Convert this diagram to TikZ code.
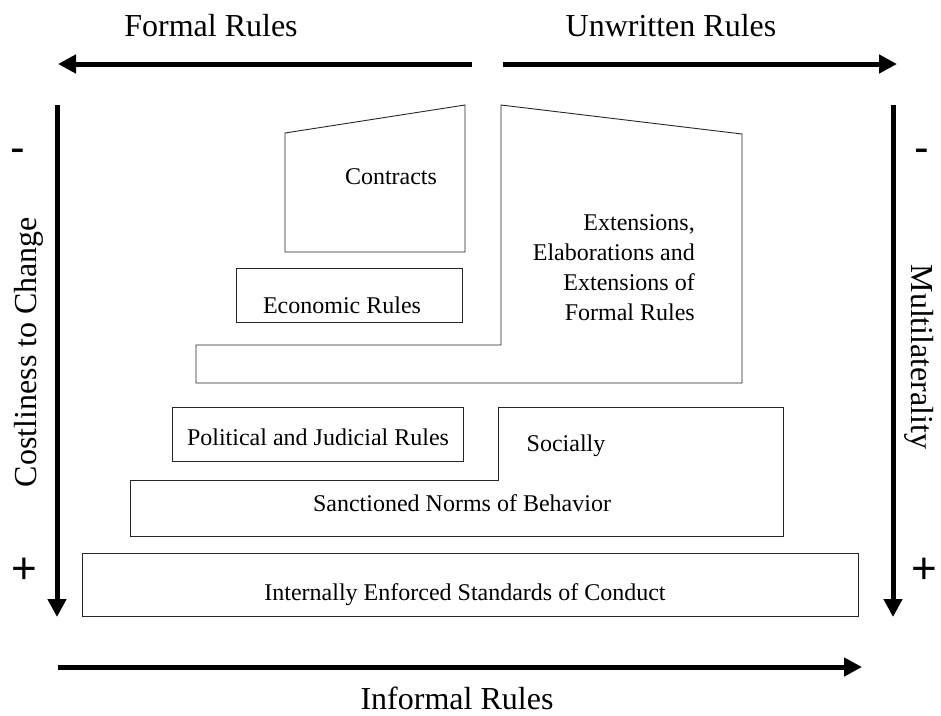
\documentclass[tikz,border=0pt]{standalone}
\usepackage{fontspec}
\setmainfont{Liberation Serif}
\newfontfamily\signfont{Liberation Sans}
\usetikzlibrary{arrows.meta}
\begin{document}
\begin{tikzpicture}[x=1pt,y=-1pt,
  outline/.style={draw=black!85, line width=0.9pt},
  axis/.style={line width=5pt, -{Triangle[length=18pt,width=18pt]}},
  bigtext/.style={font=\fontsize{32}{38}\selectfont, inner sep=0pt},
  boxtext/.style={font=\fontsize{24}{30}\selectfont, inner sep=0pt},
  signtext/.style={font=\signfont\fontsize{44}{50}\selectfont, inner sep=0pt}]
\useasboundingbox (0,0) rectangle (941,715);

% axis end points
\coordinate (ftail) at (472,64);
\coordinate (fhead) at (58,64);
\coordinate (utail) at (503,64);
\coordinate (uhead) at (897,64);
\coordinate (ltop) at (57,105);
\coordinate (lbot) at (57,617);
\coordinate (rtop) at (893,105);
\coordinate (rbot) at (893,617);
\coordinate (btail) at (58,667);
\coordinate (bhead) at (862,667);

\draw[axis] (ftail) -- (fhead);
\draw[axis] (utail) -- (uhead);
\draw[axis] (ltop) -- (lbot);
\draw[axis] (rtop) -- (rbot);
\draw[axis] (btail) -- (bhead);

% axis labels
\node[bigtext, anchor=base] (formal) at (211,36) {Formal Rules};
\node[bigtext, anchor=base] (unwritten) at (671,36) {Unwritten Rules};
\node[bigtext, anchor=base] (informal) at (457,709) {Informal Rules};
\node[bigtext, anchor=base, rotate=90] (cost) at (36,352) {Costliness to Change};
\node[bigtext, anchor=base, rotate=-90] (multi) at (911,357) {Multilaterality};
\node[signtext, anchor=base] (lminus) at (18,162) {-};
\node[signtext, anchor=base] (rminus) at (922,162) {-};
\node[signtext, anchor=base] (lplus) at (24,583) {+};
\node[signtext, anchor=base] (rplus) at (924,583) {+};

% rule blocks
\draw[outline] (285,133) -- (465,105) -- (465,252) -- (285,252) -- cycle;
\draw[outline] (501,105) -- (742,134) -- (742,383) -- (196,383) -- (196,345) -- (501,345) -- cycle;
\draw[outline] (236,268) rectangle (462,322);
\draw[outline] (172,407) rectangle (463,461);
\draw[outline] (498,407) -- (783,407) -- (783,536) -- (130,536) -- (130,480) -- (498,480) -- cycle;
\draw[outline] (82,553) rectangle (858,616);

% block labels
\node[boxtext, anchor=base] (contracts) at (391,184) {Contracts};
\node[boxtext, anchor=base east, align=right] (ext) at (695,320)
  {Extensions,\\Elaborations and\\Extensions of\hspace{4pt}\\Formal Rules};
\node[boxtext, anchor=base] (econ) at (342,313) {Economic Rules};
\node[boxtext, anchor=base] (polit) at (318,445) {Political and Judicial Rules};
\node[boxtext, anchor=base] (social) at (566,451) {Socially};
\node[boxtext, anchor=base] (norms) at (462,511) {Sanctioned Norms of Behavior};
\node[boxtext, anchor=base] (internal) at (465,600) {Internally Enforced Standards of Conduct};
\end{tikzpicture}
\end{document}
